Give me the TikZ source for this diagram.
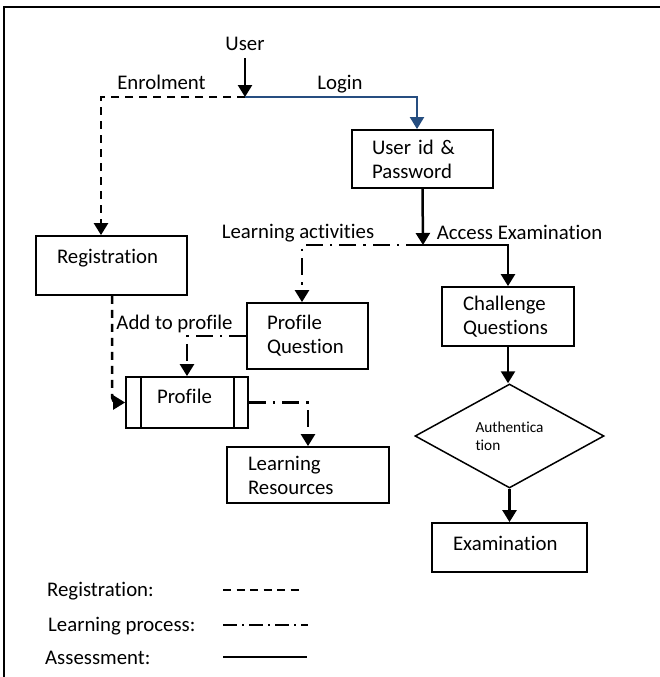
\documentclass[tikz,border=0pt]{standalone}
\usepackage{fontspec}
\setmainfont{Carlito}[Ligatures=NoCommon]
\usetikzlibrary{arrows.meta, shapes.geometric}

\definecolor{loginblue}{RGB}{38,78,128}

\begin{document}
\begin{tikzpicture}[
    x=1pt, y=-1pt,
    every node/.style={font=\fontsize{20.8}{24}\selectfont},
    box/.style={draw, line width=1.8pt, align=left, inner ysep=0pt},
    lbl/.style={inner sep=0pt, anchor=base},
    flow/.style={line width=2.5pt, -{Triangle[width=14pt,length=12pt]}},
    regline/.style={flow, dash pattern=on 8pt off 6pt},
    learnline/.style={flow, dash pattern=on 17pt off 7pt on 2.5pt off 7pt},
    loginline/.style={flow, line width=2pt, draw=loginblue}
]
\useasboundingbox (0,0) rectangle (660,677);

% frame
\draw[line width=2pt] (4,677) -- (4,7) -- (660,7);

% ------------------------
% Boxes
% ------------------------
\node[box, text width=101pt, inner xsep=20pt, minimum height=58pt] (uid) at (422.5,159)
{User id \&\\Password};

\node[box, text width=109pt, inner xsep=21pt, minimum height=59pt,
  text height=15pt, text depth=19pt] (reg) at (111.5,265.5)
{Registration};

\node[box, text width=81pt, inner xsep=20pt, minimum height=66pt] (pq) at (307.5,336)
{Profile\\Question};

\node[box, text width=90pt, inner xsep=21pt, minimum height=59pt] (chq) at (508,316.5)
{Challenge\\Questions};

\node[box, text width=60pt, inner xsep=31pt, minimum height=51pt,
  text height=15pt, text depth=13pt] (prof) at (187,402.5)
{Profile};
\draw[line width=1.8pt] ([xshift=16pt]prof.north west) -- ([xshift=16pt]prof.south west);
\draw[line width=1.8pt] ([xshift=-15pt]prof.north east) -- ([xshift=-15pt]prof.south east);

\node[box, text width=120pt, inner xsep=21pt, minimum height=56pt] (lr) at (308,475)
{Learning\\Resources};

\node[draw, diamond, line width=1.5pt, minimum width=189pt, minimum height=104pt,
  inner sep=0pt, align=left, font=\fontsize{15.3}{18}\selectfont] (auth) at (509.5,436)
{Authentica\\tion};

\node[box, text width=113pt, inner xsep=21pt, minimum height=49pt,
  text height=15pt, text depth=9pt] (exam) at (509.5,547.5)
{Examination};

% ------------------------
% Labels
% ------------------------
\node[lbl] (user) at (245,50.7) {User};
\node[lbl] (enrol) at (161.5,89.7) {Enrolment};
\node[lbl] (login) at (340,89.7) {Login};
\node[lbl] (learnact) at (298,238.7) {Learning activities};
\node[lbl] (access) at (519.5,239.7) {Access Examination};
\node[lbl] (addprof) at (174.5,329.7) {Add to profile};

% ------------------------
% Arrows
% ------------------------
\coordinate (j1) at (245,97);
\coordinate (j2) at (423,245);

\draw[flow, shorten <=7pt] (user.south) -- (j1);
\draw[regline] (j1) -| ([xshift=-10.5pt]reg.north);
\draw[loginline] (j1) -| ([xshift=-5.5pt]uid.north);

\draw[flow] (uid.south) -- (j2);
\draw[learnline] (j2) -| ([xshift=-5.5pt]pq.north);
\draw[flow] (j2) -| (chq.north);
\draw[flow] (chq.south) -- (chq.south |- auth.north);
\draw[flow] (auth.south) -- (auth.south |- exam.north);

\draw[regline, rounded corners=5pt] ([xshift=0.5pt]reg.south) |- (prof.west);
\draw[learnline] (pq.west) -| (prof.north);
\draw[learnline] (prof.east) -| (lr.north);

% ------------------------
% Legend
% ------------------------
\node[lbl, anchor=base west] (legreg) at (47,596.7) {Registration:};
\node[lbl, anchor=base west] (leglearn) at (48,631.7) {Learning process:};
\node[lbl, anchor=base west] (legass) at (45,664.7) {Assessment:};

\draw[line width=1.5pt, dash pattern=on 8pt off 5.5pt] (223,590) -- (300,590);
\draw[line width=1.5pt, dash pattern=on 14pt off 5pt on 2pt off 5pt] (223,625) -- (308,625);
\draw[line width=1.5pt] (223,657) -- (307,657);

\end{tikzpicture}
\end{document}
